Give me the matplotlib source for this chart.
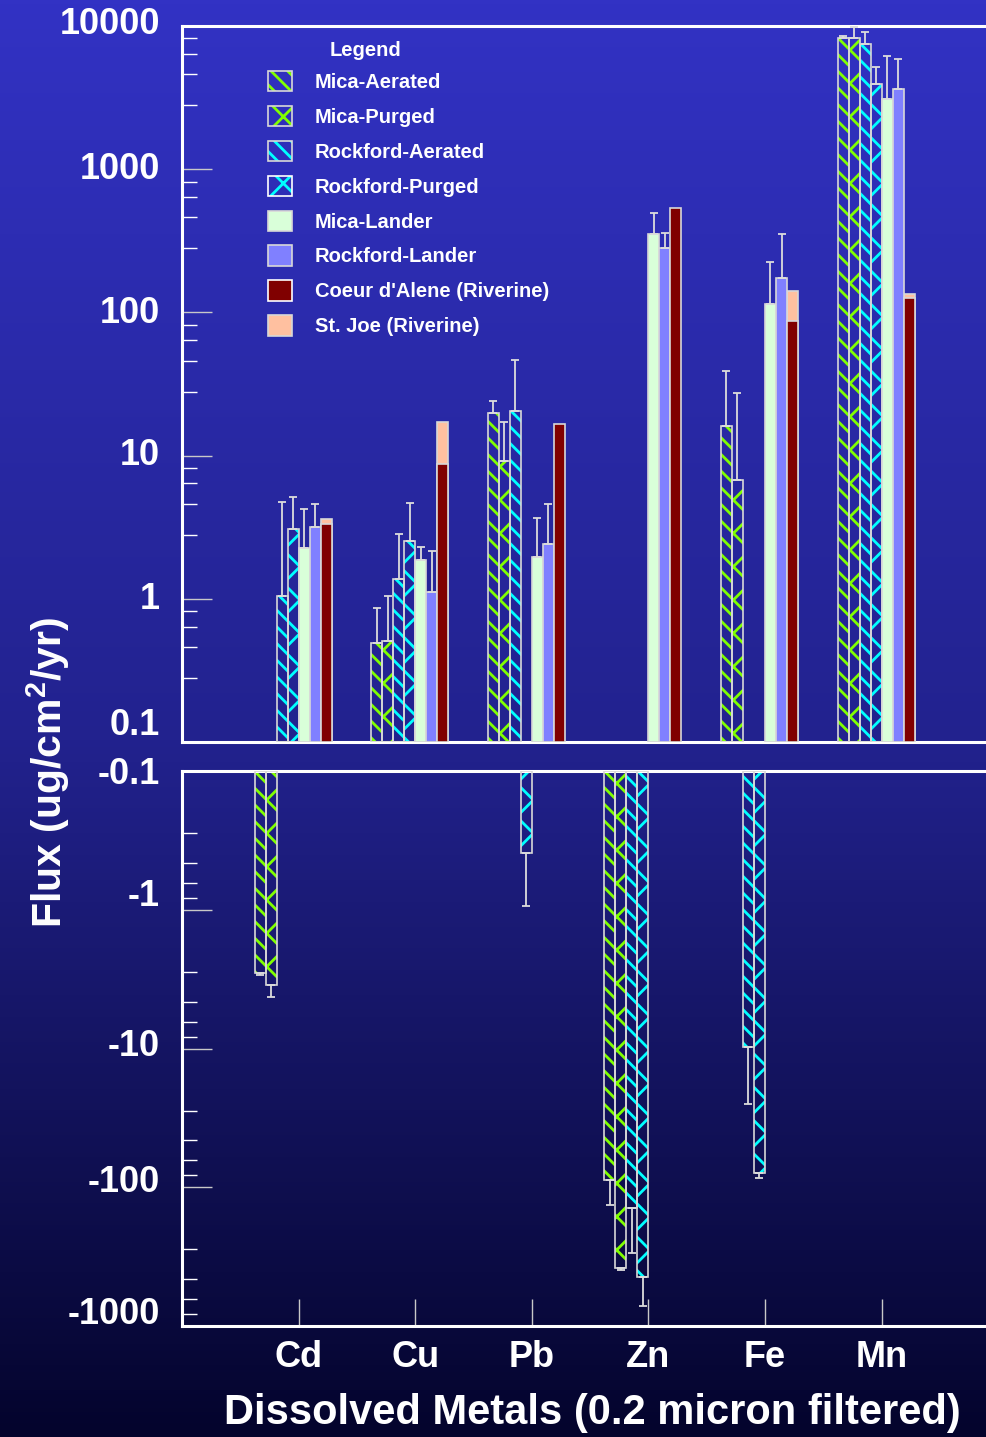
import numpy as np
import matplotlib.pyplot as plt
import matplotlib.transforms as mtransforms
from matplotlib.patches import Patch
from matplotlib.ticker import FixedLocator, NullFormatter

plt.rcParams['font.family'] = ['Liberation Sans', 'DejaVu Sans']
plt.rcParams['font.weight'] = 'bold'
plt.rcParams['hatch.linewidth'] = 2.0
plt.rcParams['mathtext.fontset'] = 'custom'
plt.rcParams['mathtext.rm'] = 'Liberation Sans:bold'
plt.rcParams['mathtext.bf'] = 'Liberation Sans:bold'

nan = np.nan

# categories
metals = ['Cd', 'Cu', 'Pb', 'Zn', 'Fe', 'Mn']

# flux values (ug/cm2/yr), negative = flux into sediment
mica_aerated = [-2.85, 0.49, 19.8, -88.5, 16.1, 8180]
mica_aerated_err = [0.12, 0.37, 4.2, 46, 23, 350]
mica_purged = [-3.48, 0.51, 9.1, -382, 6.8, 8310]
mica_purged_err = [0.8, 0.54, 8.2, 12, 20.6, 1550]
rock_aerated = [1.05, 1.37, 20.4, -142, -9.8, 7460]
rock_aerated_err = [3.72, 1.46, 26, 155, 15.5, 1690]
rock_purged = [3.08, 2.55, -0.393, -446, -78.3, 3910]
rock_purged_err = [2.07, 2.15, 0.55, 270, 7.7, 1280]
mica_lander = [2.27, 1.88, 1.96, 350, 115, 3070]
mica_lander_err = [1.96, 0.43, 1.71, 147, 110, 3150]
rock_lander = [3.15, 1.12, 2.43, 281, 175, 3660]
rock_lander_err = [1.47, 1.02, 2.19, 77, 175, 2200]
coeur = [3.32, 8.75, 16.7, 532, 86.4, 126]
st_joe = [3.63, 17.3, nan, nan, 140, 134]

top_ticks = [0.1, 1, 10, 100, 1000, 10000]
top_labels = ['0.1', '1', '10', '100', '1000', '10000']
bot_ticks = [0.1, 1, 10, 100, 1000]
bot_labels = ['-0.1', '-1', '-10', '-100', '-1000']

GREEN = '#80FF00'
CYAN = '#00FFFF'
EDGE = '#D8D8D8'
ERRC = '#DCDCDC'

W = 987
H = 1437
fig = plt.figure(figsize=(W / 100, H / 100), dpi=100)

# background gradient
bg = fig.add_axes([0, 0, 1, 1], zorder=-10)
rows = np.linspace(0, H, 400)
stops_y = [0, 740, H]
cols = np.array([[50, 50, 196], [34, 34, 142], [4, 4, 44]]) / 255.0
grad = np.stack([np.interp(rows, stops_y, cols[:, c]) for c in range(3)], axis=1)
bg.imshow(grad[:, None, :], aspect='auto', extent=[0, 1, 0, 1])
bg.axis('off')

left = 182 / W
width = 830 / W
ax_top = fig.add_axes([left, 1 - 742 / H, width, (742 - 26) / H])
ax_bot = fig.add_axes([left, 1 - 1326 / H, width, (1326 - 771) / H])

unit = 116.6
x = np.arange(len(metals))
w = 11 / unit

for ax in (ax_top, ax_bot):
    ax.set_facecolor('none')
    ax.set_xlim(-1, -1 + 830 / unit)
    ax.set_yscale('log')
    for s in ('left', 'top', 'bottom'):
        ax.spines[s].set_color('white')
        ax.spines[s].set_linewidth(2.2)
    ax.spines['right'].set_visible(False)

ax_top.set_ylim(0.1, 10000)
ax_bot.set_ylim(1000, 0.1)


def draw_series(vals, errs, offset, color, hatch=None):
    v = np.array(vals, dtype=float)
    e = np.array(errs, dtype=float)
    xs = x + offset * w
    for ax, mask, mag in ((ax_top, v > 0, v), (ax_bot, v < 0, -v)):
        if not mask.any():
            continue
        if hatch:
            ax.bar(xs[mask], mag[mask] - 0.1, bottom=0.1, width=w, facecolor='none',
                   edgecolor=color, hatch=hatch, lw=0, zorder=2)
            ax.bar(xs[mask], mag[mask] - 0.1, bottom=0.1, width=w, fill=False,
                   edgecolor=EDGE, lw=1.2, zorder=3)
        else:
            ax.bar(xs[mask], mag[mask] - 0.1, bottom=0.1, width=w, facecolor=color,
                   edgecolor=EDGE, lw=1.2, zorder=3)
        ax.errorbar(xs[mask], mag[mask], yerr=[np.zeros(mask.sum()), e[mask]], fmt='none',
                    ecolor=ERRC, elinewidth=1.3, capsize=3, capthick=1.3, zorder=4)


draw_series(mica_aerated, mica_aerated_err, -3.5, GREEN, '\\\\')
draw_series(mica_purged, mica_purged_err, -2.5, GREEN, 'x')
draw_series(rock_aerated, rock_aerated_err, -1.5, CYAN, '\\\\')
draw_series(rock_purged, rock_purged_err, -0.5, CYAN, 'x')
draw_series(mica_lander, mica_lander_err, 0.5, '#D9FFD9')
draw_series(rock_lander, rock_lander_err, 1.5, '#8080FF')

# riverine: St. Joe behind Coeur d'Alene in the same slot
sj = np.array(st_joe)
ok = ~np.isnan(sj)
ax_top.bar(x[ok] + 2.5 * w, sj[ok] - 0.1, bottom=0.1, width=w, facecolor='#FFC0A0',
           edgecolor=EDGE, lw=1.2, zorder=2.5)
ax_top.bar(x + 2.5 * w, np.array(coeur) - 0.1, bottom=0.1, width=w, facecolor='#800000',
           edgecolor=EDGE, lw=1.2, zorder=3)

# y ticks
for ax, ticks, labels, decs, dys in ((ax_top, top_ticks, top_labels, range(-1, 4),
                                      [17, -1, 0, -1, 0, 1]),
                                     (ax_bot, bot_ticks, bot_labels, range(-1, 3),
                                      [-4, 13, 2, 5, 12])):
    ax.yaxis.set_major_locator(FixedLocator(ticks))
    ax.yaxis.set_minor_locator(FixedLocator([m * 10.0 ** k for k in decs
                                             for m in (2.8, 4.6, 6.4, 8.2)]))
    ax.yaxis.set_major_formatter(NullFormatter())
    ax.yaxis.set_minor_formatter(NullFormatter())
    ax.tick_params(axis='y', which='major', direction='in', length=21.6, width=1.0,
                   color='#C8C8C8', labelleft=False)
    ax.tick_params(axis='y', which='minor', direction='in', length=10.8, width=1.0,
                   color='white', labelleft=False)
    trans = mtransforms.blended_transform_factory(ax.transAxes, ax.transData)
    for t, lab, dy in zip(ticks, labels, dys):
        tr = trans + mtransforms.ScaledTranslation(-22 / 100, dy / 100, fig.dpi_scale_trans)
        ax.text(0, t, lab, transform=tr, ha='right', va='center', color='white',
                fontsize=26, fontweight='bold')

ax_top.tick_params(axis='x', bottom=False, labelbottom=False)
ax_bot.set_xticks(x)
ax_bot.set_xticklabels(metals)
ax_bot.tick_params(axis='x', direction='in', length=19.4, width=1.0, color='#C8C8C8',
                   labelcolor='white', labelsize=26, pad=10)

# legend
labels = ['Mica-Aerated', 'Mica-Purged', 'Rockford-Aerated', 'Rockford-Purged',
          'Mica-Lander', 'Rockford-Lander', "Coeur d'Alene (Riverine)", 'St. Joe (Riverine)']
handles = [
    (Patch(facecolor='none', edgecolor=GREEN, hatch='\\\\', lw=0), Patch(fill=False, edgecolor=EDGE, lw=1.2)),
    (Patch(facecolor='none', edgecolor=GREEN, hatch='x', lw=0), Patch(fill=False, edgecolor=EDGE, lw=1.2)),
    (Patch(facecolor='none', edgecolor=CYAN, hatch='\\\\', lw=0), Patch(fill=False, edgecolor=EDGE, lw=1.2)),
    (Patch(facecolor='none', edgecolor=CYAN, hatch='x', lw=0), Patch(fill=False, edgecolor='white', lw=1.2)),
    Patch(facecolor='#D9FFD9', edgecolor=EDGE, lw=1.2),
    Patch(facecolor='#8080FF', edgecolor=EDGE, lw=1.2),
    Patch(facecolor='#800000', edgecolor='white', lw=1.2),
    Patch(facecolor='#FFC0A0', edgecolor=EDGE, lw=1.2),
]
leg = ax_top.legend(handles, labels, loc='upper left',
                    bbox_to_anchor=((268 - 182) / 830, 1 - (71 - 26) / 716),
                    frameon=False, fontsize=14.5, labelcolor='white',
                    handlelength=1.18, handleheight=1.18, labelspacing=0.69,
                    handletextpad=1.13, borderpad=0, borderaxespad=0)
for t in leg.get_texts():
    t.set_fontweight('bold')
ax_top.text((330 - 182) / 830, 1 - (50 - 26) / 716, 'Legend', transform=ax_top.transAxes,
            ha='left', va='center', color='white', fontsize=14.5, fontweight='bold')

# axis titles
fig.text(48 / W, 1 - 772 / H, r'Flux (ug/cm$^{\mathbf{2}}$/yr)', rotation=90, ha='center',
         va='center', color='white', fontsize=29.5, fontweight='bold')
fig.text(592 / W, 1 - 1413 / H, 'Dissolved Metals (0.2 micron filtered)', ha='center',
         va='center', color='white', fontsize=30, fontweight='bold')

fig.savefig('out.png', dpi=100)
